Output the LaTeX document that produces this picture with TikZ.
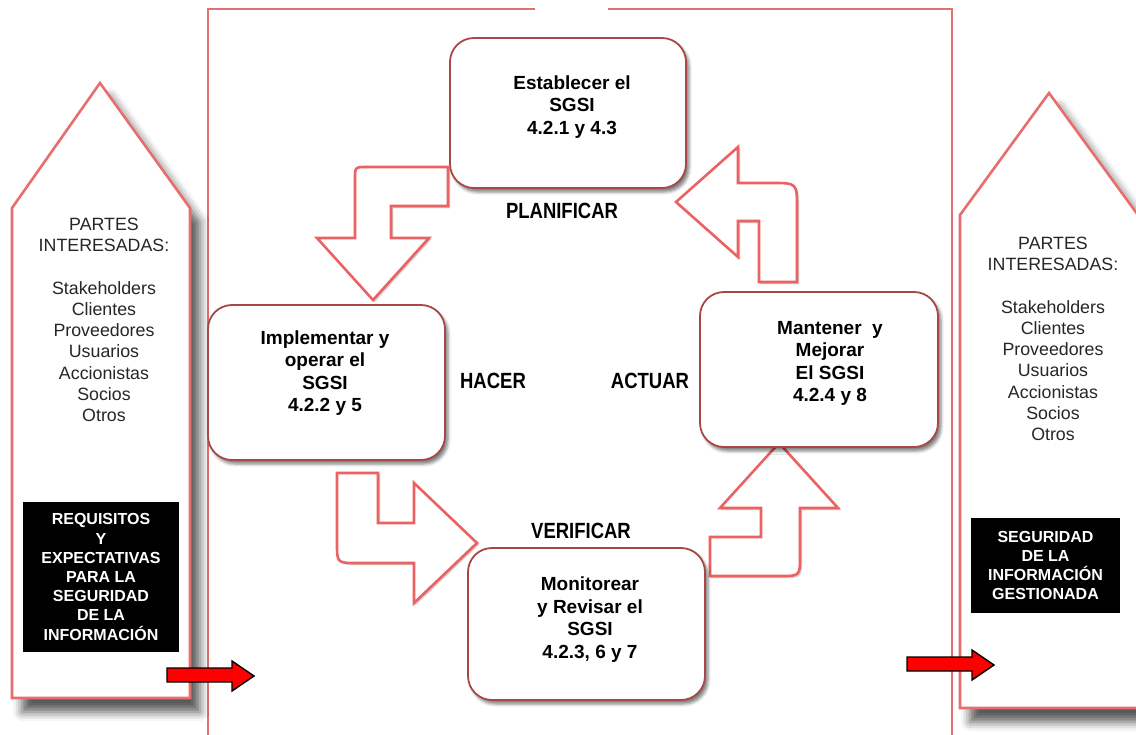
\documentclass[tikz,border=0pt]{standalone}
\usepackage{fontspec}
\setmainfont{Liberation Sans}
\usetikzlibrary{shadows,shadows.blur}
\definecolor{frameRed}{RGB}{226,112,112}
\definecolor{arrowRed}{RGB}{234,98,98}
\definecolor{boxRed}{RGB}{165,72,70}
\definecolor{pentRed}{RGB}{232,110,110}
\newcommand\condtxt[1]{\scalebox{0.84}[1]{#1}}

\begin{document}
\begin{tikzpicture}[x=1pt,y=-1pt,
  cyclebox/.style={draw=boxRed, line width=1.8pt, fill=white, rounded corners=24pt,
    blur shadow={shadow xshift=3pt, shadow yshift=-4pt, shadow blur radius=3pt, shadow opacity=50}},
  boxtext/.style={align=center, font=\fontsize{19}{22.5}\selectfont\bfseries, inner sep=0pt},
  phase/.style={font=\fontsize{22}{26}\selectfont\bfseries, inner sep=0pt},
  bentarrow/.style={draw=arrowRed, line width=2.6pt, fill=white, line join=miter,
    blur shadow={shadow xshift=1.5pt, shadow yshift=-1.5pt, shadow blur radius=1.5pt, shadow opacity=30}},
  pentagon/.style={draw=pentRed, line width=2.6pt, fill=white,
    blur shadow={shadow xshift=10pt, shadow yshift=-14pt, shadow blur radius=9pt, shadow opacity=65}},
  sidetext/.style={align=center, text=black!85, font=\fontsize{17.8}{21.2}\selectfont, inner sep=0pt},
  darkbox/.style={fill=black, text=white, align=center, inner sep=0pt,
    font=\fontsize{16}{19.2}\selectfont\bfseries},
  redarrow/.style={fill=red, draw=black, line width=1.4pt, line join=miter}
]
\useasboundingbox (0,0) rectangle (1136,735);

% outer frame of the cycle
\draw[frameRed, line width=1.5pt] (535,9) -- (208,9) -- (208,735);
\draw[frameRed, line width=1.5pt] (608,9) -- (952,9) -- (952,735);

% side columns
\draw[pentagon] (12,208) -- (100,83) -- (190,208) -- (190,698) -- (12,698) -- cycle;
\draw[pentagon] (960,215) -- (1049,93) -- (1138,215) -- (1138,708) -- (960,708) -- cycle;

\node[sidetext] (lparts) at (104,320) {PARTES\\INTERESADAS:\\[21.2pt]Stakeholders\\Clientes\\Proveedores\\Usuarios\\Accionistas\\Socios\\Otros};
\node[sidetext] (rparts) at (1053,339) {PARTES\\INTERESADAS:\\[21.2pt]Stakeholders\\Clientes\\Proveedores\\Usuarios\\Accionistas\\Socios\\Otros};

\node[darkbox, minimum width=156pt, minimum height=150pt] (req) at (101,577)
  {REQUISITOS\\Y\\EXPECTATIVAS\\PARA LA\\SEGURIDAD\\DE LA\\INFORMACIÓN};
\node[darkbox, minimum width=149pt, minimum height=95pt] (ges) at (1045.5,565.5)
  {SEGURIDAD\\DE LA\\INFORMACIÓN\\GESTIONADA};

% input / output arrows
\draw[redarrow] (167,668) -- (232,668) -- (232,661) -- (254,676) -- (232,691) -- (232,682) -- (167,682) -- cycle;
\draw[redarrow] (907,657) -- (972,657) -- (972,650) -- (994,665) -- (972,680) -- (972,671) -- (907,671) -- cycle;

% bent arrows of the cycle
\draw[bentarrow] (448,167) -- (367,167) .. controls (355,167) .. (355,179) -- (355,238) -- (317,238)
  -- (373,300) -- (429,238) -- (391,238) -- (391,206) -- (448,206) -- cycle;
\draw[bentarrow] (337,473) -- (378,473) -- (378,523) -- (414,523) -- (414,483) -- (477,543)
  -- (414,603) -- (414,563) -- (357,563) .. controls (337,563) .. (337,543) -- cycle;
\draw[bentarrow] (710,537) -- (761,537) -- (761,508) -- (720,508) -- (779,443) -- (838,508)
  -- (800,508) -- (800,556) .. controls (800,576) .. (780,576) -- (710,576) -- cycle;
\draw[bentarrow] (676,202) -- (738,147) -- (738,183) -- (772,183) .. controls (797,183) .. (797,208)
  -- (797,282) -- (759,282) -- (759,221) -- (738,221) -- (738,257) -- cycle;

% process boxes
\node[cyclebox, minimum width=236pt, minimum height=150pt] (est) at (568,113) {};
\node[cyclebox, minimum width=237pt, minimum height=155pt] (imp) at (326.5,382.5) {};
\node[cyclebox, minimum width=238pt, minimum height=155pt] (man) at (819,369.5) {};
\node[cyclebox, minimum width=237pt, minimum height=152pt] (mon) at (586.5,624) {};

\node[boxtext] (esttxt) at (572,107) {Establecer el\\SGSI\\4.2.1 y 4.3};
\node[boxtext] (imptxt) at (325,373) {Implementar y\\operar el\\SGSI\\4.2.2 y 5};
\node[boxtext] (mantxt) at (830,363.5) {Mantener\ \ y\\Mejorar\\El SGSI\\4.2.4 y 8};
\node[boxtext] (montxt) at (590,619.5) {Monitorear\\y Revisar el\\SGSI\\4.2.3, 6 y 7};

% phase labels
\node[phase] (plan) at (562,211) {\condtxt{PLANIFICAR}};
\node[phase] (hacer) at (493,381) {\condtxt{HACER}};
\node[phase] (actuar) at (650,381) {\condtxt{ACTUAR}};
\node[phase] (verif) at (581,531) {\condtxt{VERIFICAR}};
\end{tikzpicture}
\end{document}
